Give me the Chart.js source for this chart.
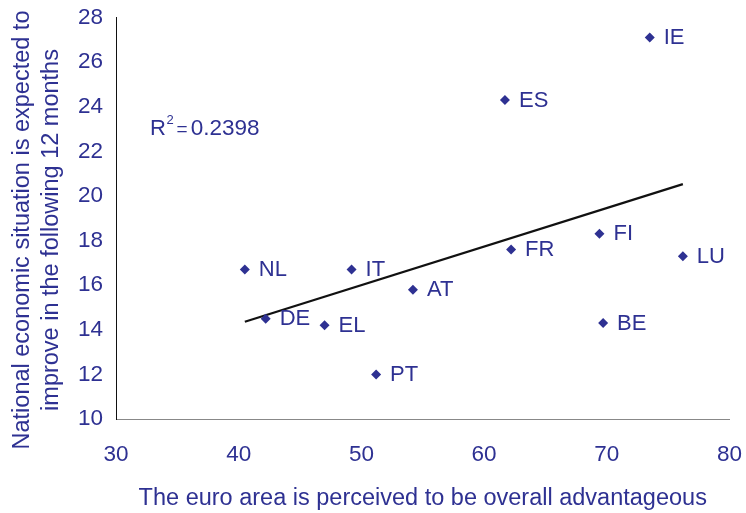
<!DOCTYPE html>
<html>
<head>
<meta charset="utf-8">
<script src="https://cdn.jsdelivr.net/npm/chart.js@4/dist/chart.umd.min.js"></script>
<style>
  html, body { margin: 0; padding: 0; background: #ffffff; }
  #wrap { width: 746px; height: 513px; position: relative; }
</style>
</head>
<body>
<div id="wrap"><canvas id="chart"></canvas></div>
<script>
// Euro area member states: share seeing the euro as overall advantageous (x)
// versus share expecting the national economy to improve over the next 12 months (y)
const countries = ['NL', 'IT', 'AT', 'DE', 'EL', 'PT', 'FR', 'FI', 'LU', 'BE', 'IE', 'ES'];
const advantageous = [40.5, 49.2, 54.2, 42.2, 47.0, 51.2, 62.2, 69.4, 76.2, 69.7, 73.5, 61.7];
const improveExpected = [16.7, 16.7, 15.8, 14.5, 14.2, 12.0, 17.6, 18.3, 17.3, 14.3, 27.1, 24.3];

const xTicks = [30, 40, 50, 60, 70, 80];
const yTicks = [10, 12, 14, 16, 18, 20, 22, 24, 26, 28];

const rSquaredText = '0.2398';
const xTitle = 'The euro area is perceived to be overall advantageous';
const yTitleLines = ['National economic situation is expected to', 'improve in the following 12 months'];

const NAVY = '#2e3192';
const FONT = '"Liberation Sans", Arial, Helvetica, sans-serif';

// Least-squares linear trend through the country points
function linearFit(xs, ys) {
  const n = xs.length;
  const mx = xs.reduce((a, b) => a + b, 0) / n;
  const my = ys.reduce((a, b) => a + b, 0) / n;
  let sxy = 0, sxx = 0;
  for (let i = 0; i < n; i++) {
    sxy += (xs[i] - mx) * (ys[i] - my);
    sxx += (xs[i] - mx) * (xs[i] - mx);
  }
  const slope = sxy / sxx;
  return { slope, intercept: my - slope * mx };
}
const fit = linearFit(advantageous, improveExpected);
const xLo = Math.min(...advantageous);
const xHi = Math.max(...advantageous);
const trendPoints = [
  { x: xLo, y: fit.intercept + fit.slope * xLo },
  { x: xHi, y: fit.intercept + fit.slope * xHi }
];

const points = countries.map((c, i) => ({ x: advantageous[i], y: improveExpected[i] }));

// Keep the plot frame fixed: no extra room reserved for overhanging tick labels
function noLabelPadding(s) {
  s.paddingLeft = 0;
  s.paddingRight = 0;
  s.paddingTop = 0;
  s.paddingBottom = 0;
}

// Country codes written to the right of each marker
const pointLabels = {
  id: 'pointLabels',
  afterDatasetsDraw(chart) {
    const meta = chart.getDatasetMeta(1);
    const ctx = chart.ctx;
    ctx.save();
    ctx.font = '22px ' + FONT;
    ctx.fillStyle = NAVY;
    ctx.textAlign = 'left';
    ctx.textBaseline = 'middle';
    meta.data.forEach((el, i) => {
      ctx.fillText(countries[i], el.x + 14, el.y + 0.5);
    });
    ctx.restore();
  }
};

// Goodness-of-fit note and the two-line vertical axis caption
const captions = {
  id: 'captions',
  afterDraw(chart) {
    const ctx = chart.ctx;
    ctx.save();
    ctx.fillStyle = NAVY;
    ctx.textBaseline = 'alphabetic';
    ctx.textAlign = 'left';
    let x = 150;
    const base = 135;
    ctx.font = '22px ' + FONT;
    ctx.fillText('R', x, base);
    x += ctx.measureText('R').width + 0.5;
    ctx.font = '13px ' + FONT;
    ctx.fillText('2', x, base - 11);
    x += ctx.measureText('2').width + 3;
    ctx.font = '19px ' + FONT;
    ctx.fillText('=', x, base);
    x += ctx.measureText('=').width + 3;
    ctx.font = '22.5px ' + FONT;
    ctx.fillText(rSquaredText, x, base);

    ctx.translate(23, 230);
    ctx.rotate(-Math.PI / 2);
    ctx.textAlign = 'center';
    ctx.textBaseline = 'middle';
    ctx.font = '23.5px ' + FONT;
    yTitleLines.forEach((line, i) => ctx.fillText(line, 0, i * 29));
    ctx.restore();
  }
};

new Chart(document.getElementById('chart'), {
  type: 'scatter',
  data: {
    datasets: [
      {
        type: 'line',
        data: trendPoints,
        borderColor: '#111111',
        borderWidth: 2.2,
        pointRadius: 0,
        fill: false,
        order: 1
      },
      {
        data: points,
        pointStyle: 'rectRot',
        pointRadius: 5,
        pointHoverRadius: 5,
        backgroundColor: NAVY,
        borderColor: NAVY,
        borderWidth: 0,
        order: 0
      }
    ]
  },
  options: {
    responsive: true,
    maintainAspectRatio: false,
    devicePixelRatio: 1,
    animation: false,
    events: [],
    layout: { padding: { top: 17.5, right: 16.5, left: 0, bottom: 0 } },
    plugins: {
      legend: { display: false },
      tooltip: { enabled: false }
    },
    scales: {
      x: {
        type: 'linear',
        min: xTicks[0],
        max: xTicks[xTicks.length - 1],
        afterBuildTicks: s => { s.ticks = xTicks.map(v => ({ value: v })); },
        afterFit: s => { s.height = 94; noLabelPadding(s); },
        grid: { display: false, drawTicks: false },
        border: { display: true, color: '#888888', width: 1 },
        ticks: {
          color: NAVY,
          font: { family: FONT, size: 22.5 },
          padding: 22,
          maxRotation: 0
        },
        title: {
          display: true,
          text: xTitle,
          color: NAVY,
          font: { family: FONT, size: 23.5 },
          padding: { top: 0, bottom: 0 }
        }
      },
      y: {
        type: 'linear',
        min: yTicks[0],
        max: yTicks[yTicks.length - 1],
        afterBuildTicks: s => { s.ticks = yTicks.map(v => ({ value: v })); },
        afterFit: s => { s.width = 116; noLabelPadding(s); },
        grid: { display: false, drawTicks: false },
        border: { display: true, color: '#111111', width: 1 },
        ticks: {
          color: NAVY,
          font: { family: FONT, size: 22.5 },
          padding: 13
        }
      }
    }
  },
  plugins: [pointLabels, captions]
});
</script>
</body>
</html>
